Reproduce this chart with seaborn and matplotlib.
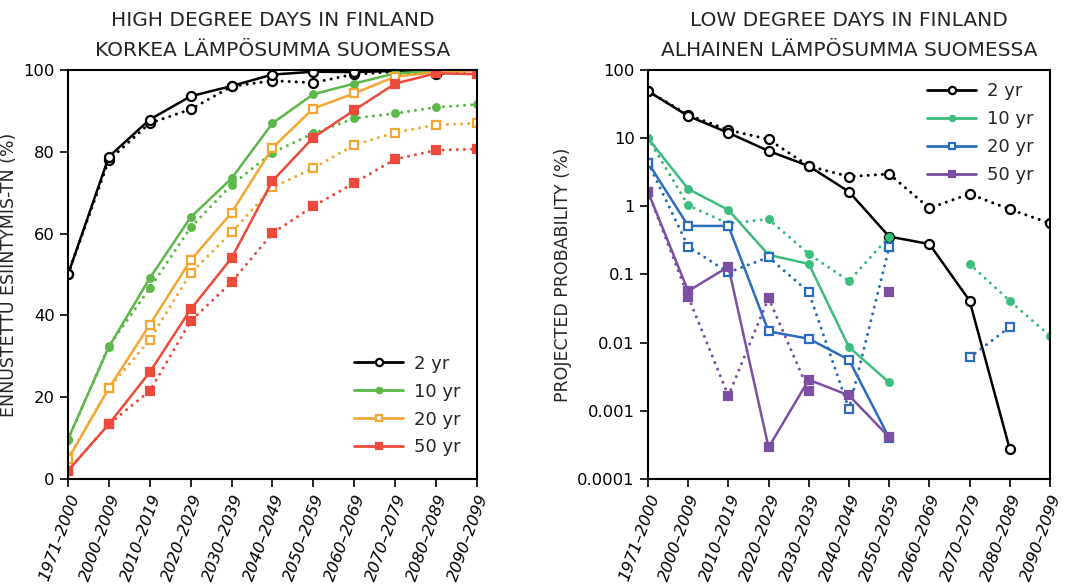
import numpy as np
import pandas as pd
import matplotlib
matplotlib.use("Agg")
import matplotlib.pyplot as plt
import seaborn as sns
from matplotlib.lines import Line2D
from matplotlib.legend_handler import HandlerLine2D
from matplotlib.ticker import FixedLocator, NullLocator

# ── Data ──────────────────────────────────────────────────────
PERIODS = ["1971–2000", "2000–2009", "2010–2019", "2020–2029", "2030–2039",
           "2040–2049", "2050–2059", "2060–2069", "2070–2079", "2080–2089",
           "2090–2099"]
RETURN = ["2 yr", "10 yr", "20 yr", "50 yr"]
nan = np.nan

# high degree days (%), solid = one scenario, dotted = other
high_solid = {
    "2 yr":  [50, 78.8, 87.9, 93.6, 96.1, 98.9, 99.6, 99.5, 99.8, 99.7, 100],
    "10 yr": [9.7, 32.3, 49.1, 64.0, 73.5, 87.0, 94.1, 96.7, 99.2, 99.8, 100],
    "20 yr": [4.8, 22.2, 37.7, 53.5, 65.1, 81.0, 90.6, 94.3, 98.4, 99.5, 99.8],
    "50 yr": [2.0, 13.4, 26.1, 41.5, 54.0, 72.9, 83.5, 90.2, 96.7, 99.2, 99.0],
}
high_dotted = {
    "2 yr":  [50, 78.0, 87.0, 90.4, 96.0, 97.4, 96.9, 99.0, 99.6, 99.0, 100],
    "10 yr": [9.5, 32.5, 46.6, 61.5, 71.9, 79.8, 84.5, 88.2, 89.4, 90.9, 91.6],
    "20 yr": [5.0, 22.2, 34.0, 50.3, 60.3, 71.3, 76.0, 81.7, 84.7, 86.6, 87.0],
    "50 yr": [2.0, 13.4, 21.5, 38.6, 48.1, 60.1, 66.7, 72.4, 78.2, 80.4, 80.7],
}

# low degree days, projected probability (%)
low_solid = {
    "2 yr":  [49, 21.2, 12.0, 6.5, 3.9, 1.64, 0.36, 0.28, 0.0414, 0.000274, nan],
    "10 yr": [10, 1.8, 0.885, 0.194, 0.143, 0.0086, 0.0026, nan, nan, nan, nan],
    "20 yr": [4.4, 0.516, 0.516, 0.0146, 0.0114, 0.0056, 0.0004, nan, nan, nan, nan],
    "50 yr": [1.64, 0.057, 0.13, 0.00029, 0.00285, 0.00168, 0.00041, nan, nan, nan, nan],
}
low_dotted = {
    "2 yr":  [49, 22.0, 13.2, 9.6, 3.9, 2.73, 2.99, 0.94, 1.52, 0.905, 0.565],
    "10 yr": [10, 1.03, 0.56, 0.65, 0.2, 0.08, 0.36, nan, 0.143, 0.041, 0.0126],
    "20 yr": [4.4, 0.256, 0.107, 0.179, 0.055, 0.00106, 0.25, nan, 0.00605, 0.0169, nan],
    "50 yr": [1.64, 0.047, 0.00166, 0.045, 0.00196, nan, 0.0545, nan, nan, nan, nan],
}

HIGH_COLORS = {"2 yr": "black", "10 yr": "#5cb848", "20 yr": "#f3a733", "50 yr": "#ee4a3c"}
LOW_COLORS  = {"2 yr": "black", "10 yr": "#3dbd7d", "20 yr": "#2a6cbd", "50 yr": "#7c4fa3"}
MARKERS = {
    "2 yr":  dict(marker="o", ms=6.5, fill=False),
    "10 yr": dict(marker="o", ms=4.8, fill=True),
    "20 yr": dict(marker="s", ms=6,   fill=False),
    "50 yr": dict(marker="s", ms=5.2, fill=True),
}

sns.set_theme(style="ticks")
plt.rcParams["font.family"] = ["DejaVu Sans"]


class LeftMarkerHandler(HandlerLine2D):
    # marker at the left end of the legend line
    def get_xdata(self, legend, xdescent, ydescent, width, height, fontsize):
        xdata = np.array([-xdescent, -xdescent + width])
        return xdata, np.array([-xdescent])


def draw_series(ax, values, color, style, dotted):
    x = np.arange(len(values))
    y = np.array(values, dtype=float)
    mask = ~np.isnan(y)
    # split into contiguous runs so gaps stay gaps
    runs, cur = [], []
    for i in range(len(y)):
        if mask[i]:
            cur.append(i)
        else:
            if cur:
                runs.append(cur)
            cur = []
    if cur:
        runs.append(cur)
    for run in runs:
        df = pd.DataFrame({"x": x[run], "y": y[run]})
        kw = dict(color=color, lw=2.2 if dotted else 1.8,
                  marker=style["marker"], markersize=style["ms"],
                  markeredgecolor=color, markeredgewidth=1.6,
                  markerfacecolor=color if style["fill"] else "white")
        if dotted:
            kw["linestyle"] = (0, (0.01, 2.3))
            kw["dash_capstyle"] = "round"
        sns.lineplot(data=df, x="x", y="y", ax=ax, errorbar=None,
                     sort=False, estimator=None, **kw)


def style_axes(ax):
    ax.set_xlim(0, len(PERIODS) - 1)
    ax.set_xticks(np.arange(len(PERIODS)))
    ax.set_xticklabels(PERIODS, rotation=70, ha="right", va="top",
                       rotation_mode="anchor", fontsize=11.8, style="italic")
    ax.tick_params(direction="out", length=6, width=1.2, colors="black",
                   labelsize=11.8)
    for sp in ax.spines.values():
        sp.set_visible(True)
        sp.set_color("black")
        sp.set_linewidth(1.5)
    ax.set_xlabel("")


def legend_for(ax, colors, loc, anchor):
    handles = []
    for r in RETURN:
        st = MARKERS[r]
        handles.append(Line2D([0], [0], color=colors[r], lw=2,
                              marker=st["marker"], markersize=st["ms"] * 0.8,
                              markeredgecolor=colors[r], markeredgewidth=1.6,
                              markerfacecolor=colors[r] if st["fill"] else "white"))
    ax.legend(handles, RETURN, loc=loc, bbox_to_anchor=anchor, frameon=False,
              fontsize=13, handlelength=2.7, handletextpad=0.6, labelspacing=0.55,
              handler_map={Line2D: LeftMarkerHandler()})


fig = plt.figure(figsize=(10.67, 5.84), dpi=100)
ax1 = fig.add_axes([0.0637, 0.180, 0.3833, 0.700])
ax2 = fig.add_axes([0.6073, 0.180, 0.3767, 0.700])

# ── Left: high degree days ────────────────────────────────────
for r in RETURN:
    draw_series(ax1, high_dotted[r], HIGH_COLORS[r], MARKERS[r], True)
    draw_series(ax1, high_solid[r], HIGH_COLORS[r], MARKERS[r], False)
style_axes(ax1)
ax1.set_ylim(0, 100)
ax1.set_yticks([0, 20, 40, 60, 80, 100])
ax1.set_ylabel("ENNUSTETTU ESIINTYMIS-TN (%)", fontsize=12.5, labelpad=4)
ax1.set_title("HIGH DEGREE DAYS IN FINLAND\nKORKEA LÄMPÖSUMMA SUOMESSA",
              fontsize=14.5, linespacing=1.75, pad=10)
legend_for(ax1, HIGH_COLORS, "lower right", (1.0, 0.015))

# ── Right: low degree days ────────────────────────────────────
for r in RETURN:
    draw_series(ax2, low_dotted[r], LOW_COLORS[r], MARKERS[r], True)
    draw_series(ax2, low_solid[r], LOW_COLORS[r], MARKERS[r], False)
style_axes(ax2)
ax2.set_yscale("log")
ax2.set_ylim(0.0001, 100)
yt = [0.0001, 0.001, 0.01, 0.1, 1, 10, 100]
ax2.yaxis.set_major_locator(FixedLocator(yt))
ax2.yaxis.set_minor_locator(NullLocator())
ax2.set_yticklabels(["0.0001", "0.001", "0.01", "0.1", "1", "10", "100"])
ax2.set_ylabel("PROJECTED PROBABILITY (%)", fontsize=12.5, labelpad=4)
ax2.set_title("LOW DEGREE DAYS IN FINLAND\nALHAINEN LÄMPÖSUMMA SUOMESSA",
              fontsize=14.5, linespacing=1.75, pad=10)
legend_for(ax2, LOW_COLORS, "upper right", (1.0, 1.01))

plt.savefig("out.png", dpi=100)
